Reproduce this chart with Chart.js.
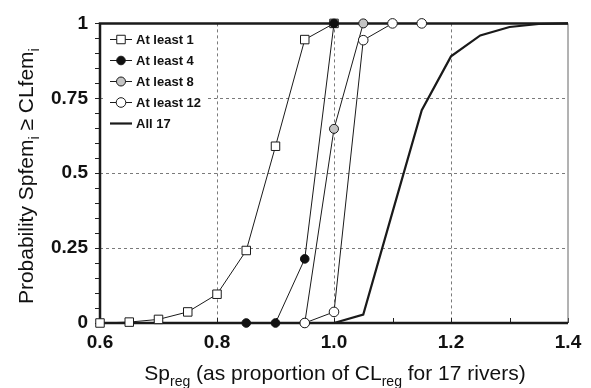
<!DOCTYPE html>
<html>
<head>
<meta charset="utf-8">
<script src="https://cdn.jsdelivr.net/npm/chart.js"></script>
<style>
  html, body { margin: 0; padding: 0; background: #fff; }
  #wrap { width: 591px; height: 388px; position: relative; }
</style>
</head>
<body>
<div id="wrap"><canvas id="grafico"></canvas></div>
<script>
// valores
const seriesNames = ['At least 1', 'At least 4', 'At least 8', 'At least 12', 'All 17'];

const least1X = [0.6, 0.65, 0.7, 0.75, 0.8, 0.85, 0.9, 0.95, 1.0];
const least1Y = [0, 0.003, 0.012, 0.037, 0.096, 0.242, 0.59, 0.946, 1];

const least4X = [0.85, 0.9, 0.95, 1.0];
const least4Y = [0, 0, 0.214, 1];

const least8X = [0.95, 1.0, 1.05];
const least8Y = [0, 0.648, 1];

const least12X = [0.95, 1.0, 1.05, 1.1, 1.15];
const least12Y = [0, 0.037, 0.944, 1, 1];

const all17X = [1.0, 1.05, 1.1, 1.15, 1.2, 1.25, 1.3, 1.35, 1.4];
const all17Y = [0, 0.028, 0.37, 0.71, 0.89, 0.96, 0.988, 0.998, 1];

const xTickLabels = ['0.6', '0.8', '1.0', '1.2', '1.4'];
const yTickLabels = ['0', '0.25', '0.5', '0.75', '1'];

const FONT = '"Liberation Sans", Arial, sans-serif';

function pts(xs, ys) {
  return xs.map((x, i) => ({ x: x, y: ys[i] }));
}

// ejes, grilla y marco
const framePlugin = {
  id: 'frame',
  beforeDatasetsDraw(chart) {
    const { ctx, chartArea: a, scales } = chart;
    const sx = scales.x, sy = scales.y;
    ctx.save();
    // grilla punteada
    ctx.strokeStyle = '#7a7a7a';
    ctx.lineWidth = 1;
    ctx.setLineDash([3, 3]);
    [0.8, 1.0, 1.2].forEach(v => {
      const px = Math.round(sx.getPixelForValue(v)) + 0.5;
      ctx.beginPath(); ctx.moveTo(px, a.top); ctx.lineTo(px, a.bottom); ctx.stroke();
    });
    [0.25, 0.5, 0.75].forEach(v => {
      const py = Math.round(sy.getPixelForValue(v)) + 0.5;
      ctx.beginPath(); ctx.moveTo(a.left, py); ctx.lineTo(a.right, py); ctx.stroke();
    });
    ctx.setLineDash([]);
    // fondo blanco de la leyenda
    ctx.fillStyle = '#ffffff';
    ctx.fillRect(a.left + 3, 26, 103, 110);
    // marcas del eje y (hacia afuera)
    ctx.strokeStyle = '#222';
    ctx.lineWidth = 1;
    for (let k = 0; k <= 20; k++) {
      const py = Math.round(sy.getPixelForValue(k * 0.05)) + 0.5;
      ctx.beginPath(); ctx.moveTo(a.left - 5, py); ctx.lineTo(a.left, py); ctx.stroke();
    }
    // marcas del eje x (hacia adentro)
    for (let k = 0; k <= 8; k++) {
      const px = Math.round(sx.getPixelForValue(0.6 + k * 0.1)) + 0.5;
      ctx.beginPath(); ctx.moveTo(px, a.bottom); ctx.lineTo(px, a.bottom - 5); ctx.stroke();
    }
    // marco derecho fino
    ctx.strokeStyle = '#666';
    ctx.lineWidth = 1;
    ctx.beginPath(); ctx.moveTo(a.right, a.top); ctx.lineTo(a.right, a.bottom); ctx.stroke();
    // ejes gruesos
    ctx.strokeStyle = '#1a1a1a';
    ctx.lineWidth = 2.5;
    ctx.beginPath();
    ctx.moveTo(a.right, a.top);
    ctx.lineTo(a.left, a.top);
    ctx.lineTo(a.left, a.bottom);
    ctx.lineTo(a.right, a.bottom);
    ctx.stroke();
    ctx.restore();
  }
};

// texto con subindices
function drawRich(ctx, parts, size) {
  let w = 0;
  parts.forEach(p => {
    ctx.font = (p.sub ? Math.round(size * 0.68) : size) + 'px ' + FONT;
    w += ctx.measureText(p.t).width;
  });
  let x = -w / 2;
  parts.forEach(p => {
    ctx.font = (p.sub ? Math.round(size * 0.68) : size) + 'px ' + FONT;
    ctx.fillText(p.t, x, p.sub ? size * 0.3 : 0);
    x += ctx.measureText(p.t).width;
  });
}

const titlesPlugin = {
  id: 'titles',
  afterDraw(chart) {
    const { ctx, chartArea: a } = chart;
    ctx.save();
    ctx.fillStyle = '#111';
    ctx.textBaseline = 'alphabetic';
    ctx.textAlign = 'left';
    // titulo x
    ctx.save();
    ctx.translate(335, 380);
    drawRich(ctx, [
      { t: 'Sp' }, { t: 'reg', sub: true },
      { t: ' (as proportion of CL' }, { t: 'reg', sub: true },
      { t: ' for 17 rivers)' }
    ], 21);
    ctx.restore();
    // titulo y
    ctx.save();
    ctx.translate(33, (a.top + a.bottom) / 2 + 3);
    ctx.rotate(-Math.PI / 2);
    drawRich(ctx, [
      { t: 'Probability Spfem' }, { t: 'i', sub: true },
      { t: ' \u2265 CLfem' }, { t: 'i', sub: true }
    ], 21);
    ctx.restore();

    // leyenda
    const sets = chart.data.datasets;
    const x0 = a.left + 10, x1 = a.left + 32, xm = (x0 + x1) / 2;
    sets.forEach((ds, i) => {
      const y = 39.5 + i * 21;
      ctx.strokeStyle = '#1a1a1a';
      ctx.lineWidth = ds.borderWidth;
      ctx.beginPath(); ctx.moveTo(x0, y); ctx.lineTo(x1, y); ctx.stroke();
      if (ds.pointRadius > 0) {
        ctx.fillStyle = ds.pointBackgroundColor;
        ctx.strokeStyle = '#1a1a1a';
        ctx.lineWidth = 1;
        ctx.beginPath();
        if (ds.pointStyle === 'rect') {
          const s = ds.pointRadius * Math.SQRT1_2;
          ctx.rect(xm - s, y - s, 2 * s, 2 * s);
        } else {
          ctx.arc(xm, y, ds.pointRadius, 0, Math.PI * 2);
        }
        ctx.fill(); ctx.stroke();
      }
      ctx.fillStyle = '#111';
      ctx.font = 'bold 13px ' + FONT;
      ctx.textBaseline = 'middle';
      ctx.fillText(ds.label, x1 + 4, y + 1);
    });
    ctx.restore();
  }
};

const ctx = document.getElementById('grafico').getContext('2d');

new Chart(ctx, {
  type: 'scatter',
  data: {
    datasets: [
      {
        label: seriesNames[0], data: pts(least1X, least1Y), order: 5,
        showLine: true, borderColor: '#1a1a1a', borderWidth: 1,
        pointStyle: 'rect', pointRadius: 6, pointBackgroundColor: '#ffffff',
        pointBorderColor: '#1a1a1a', pointBorderWidth: 1, clip: false
      },
      {
        label: seriesNames[1], data: pts(least4X, least4Y), order: 4,
        showLine: true, borderColor: '#1a1a1a', borderWidth: 1,
        pointStyle: 'circle', pointRadius: 4.3, pointBackgroundColor: '#111111',
        pointBorderColor: '#111111', pointBorderWidth: 1, clip: false
      },
      {
        label: seriesNames[2], data: pts(least8X, least8Y), order: 3,
        showLine: true, borderColor: '#1a1a1a', borderWidth: 1,
        pointStyle: 'circle', pointRadius: 4.5, pointBackgroundColor: '#c4c4c4',
        pointBorderColor: '#1a1a1a', pointBorderWidth: 1, clip: false
      },
      {
        label: seriesNames[3], data: pts(least12X, least12Y), order: 2,
        showLine: true, borderColor: '#1a1a1a', borderWidth: 1,
        pointStyle: 'circle', pointRadius: 4.8, pointBackgroundColor: '#ffffff',
        pointBorderColor: '#1a1a1a', pointBorderWidth: 1, clip: false
      },
      {
        label: seriesNames[4], data: pts(all17X, all17Y), order: 1,
        showLine: true, borderColor: '#1a1a1a', borderWidth: 2.2,
        pointRadius: 0, pointBackgroundColor: '#1a1a1a', clip: false
      }
    ]
  },
  options: {
    responsive: true,
    maintainAspectRatio: false,
    animation: false,
    layout: { padding: { left: 0, top: 19, right: 23, bottom: 0 } },
    plugins: { legend: { display: false }, tooltip: { enabled: false } },
    scales: {
      x: {
        type: 'linear', min: 0.6, max: 1.4,
        grid: { display: false, drawTicks: false },
        border: { display: false },
        afterFit(scale) { scale.height = 65; },
        ticks: {
          stepSize: 0.1, autoSkip: false, maxRotation: 0, padding: 8,
          color: '#111', font: { family: FONT, size: 19, weight: 'bold' },
          callback(v) {
            const lbl = (Math.round(v * 10) / 10).toFixed(1);
            return xTickLabels.includes(lbl) ? lbl : '';
          }
        }
      },
      y: {
        type: 'linear', min: 0, max: 1,
        grid: { display: false, drawTicks: false },
        border: { display: false },
        afterFit(scale) { scale.width = 100; },
        ticks: {
          stepSize: 0.05, autoSkip: false, padding: 12,
          color: '#111', font: { family: FONT, size: 19, weight: 'bold' },
          callback(v) {
            const lbl = String(Math.round(v * 100) / 100);
            return yTickLabels.includes(lbl) ? lbl : '';
          }
        }
      }
    }
  },
  plugins: [framePlugin, titlesPlugin]
});
</script>
</body>
</html>
